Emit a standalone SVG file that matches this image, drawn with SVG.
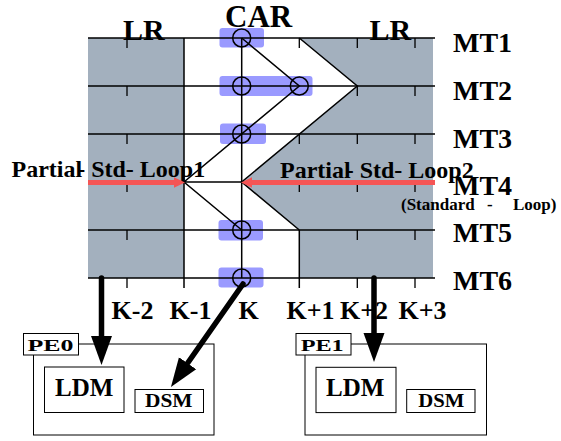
<svg xmlns="http://www.w3.org/2000/svg" width="561" height="441" viewBox="0 0 561 441">
  <defs>
    <style>
      text { font-family: "Liberation Serif", "Times New Roman", serif; font-weight: bold; fill: #000; }
      .reg { fill: #a3b0be; }
      .hl { fill: #9a9aff; }
      .ln { stroke: #000; stroke-width: 1.5; fill: none; }
      .tick { stroke: #000; stroke-width: 1.3; }
      .node { fill: none; stroke: #000; stroke-width: 1.5; }
      .red { stroke: #f55555; stroke-width: 5; fill: none; }
      .thick { stroke: #000; stroke-width: 5.5; stroke-linecap: round; fill: none; }
      .box { fill: #fff; stroke: #000; stroke-width: 1; }
      .big { font-size: 30px; }
      .mt { font-size: 28px; }
      .col { font-size: 26px; }
      .loop { font-size: 24px; }
    </style>
    <marker id="redHead" markerUnits="userSpaceOnUse" markerWidth="12" markerHeight="12" viewBox="0 0 12 12" refX="0" refY="6" orient="auto">
      <path d="M0,0.8 L11,6 L0,11.2 z" fill="#f55555"/>
    </marker>
    <marker id="blackHead" markerUnits="userSpaceOnUse" markerWidth="30" markerHeight="24" viewBox="0 0 30 24" refX="1" refY="12" orient="auto">
      <path d="M0,1.5 L29,12 L0,22.5 z" fill="#000"/>
    </marker>
  </defs>

  <!-- shaded regions (neighbouring LR columns) -->
  <g id="regions">
    <rect class="reg" x="88" y="38" width="96" height="240"/>
    <polygon class="reg" points="299.3,38 433,38 433,278 299.3,278 299.3,230 241.7,182 357.3,86"/>
  </g>

  <!-- highlighted cells -->
  <g id="highlights">
    <rect class="hl" x="219.5" y="28" width="44.5" height="19.5" rx="3"/>
    <rect class="hl" x="219.5" y="76" width="93" height="20" rx="3"/>
    <rect class="hl" x="220" y="123.5" width="46" height="20.5" rx="3"/>
    <rect class="hl" x="218.5" y="220" width="44.5" height="20.5" rx="3"/>
    <rect class="hl" x="218.5" y="267.5" width="45" height="20" rx="3"/>
  </g>

  <!-- grid -->
  <g id="grid">
    <path class="ln" d="M88,38 H435 M88,86 H435 M88,134 H435 M88,182 H435 M88,230 H435 M88,278 H435"/>
    <path class="ln" d="M184,38 V288 M241.7,38 V278 M299.3,230 V288"/>
    <path class="tick" d="M127,38 v10 M127,86 v10 M127,134 v10 M127,182 v10 M127,230 v10 M127,278 v10
      M299.3,38 v10 M299.3,134 v10 M299.3,182 v10
      M357.3,38 v10 M357.3,86 v10 M357.3,134 v10 M357.3,182 v10 M357.3,230 v10 M357.3,278 v10
      M415,38 v10 M415,86 v10 M415,134 v10 M415,182 v10 M415,230 v10 M415,278 v10"/>
    <polyline class="ln" points="299.3,38 357.3,86 241.7,182 299.3,230"/>
  </g>

  <!-- iteration nodes -->
  <g id="n-k-mt1"><circle class="node" cx="241.7" cy="38" r="9"/></g>
  <g id="n-k-mt2"><circle class="node" cx="241.7" cy="86" r="9"/></g>
  <g id="n-k1-mt2"><circle class="node" cx="299.3" cy="86" r="9"/></g>
  <g id="n-k-mt3"><circle class="node" cx="241.7" cy="134" r="9"/></g>
  <g id="n-k-mt5"><circle class="node" cx="241.7" cy="230" r="9"/></g>
  <g id="n-k-mt6"><circle class="node" cx="241.7" cy="278" r="9"/></g>

  <!-- labels -->
  <g id="labels">
    <text class="big" x="123" y="39.5">LR</text>
    <text x="225" y="27.3" style="font-size:31px">CAR</text>
    <text class="big" x="369.5" y="39.5">LR</text>
    <text class="mt" x="453" y="52">MT1</text>
    <text class="mt" x="453" y="100">MT2</text>
    <text class="mt" x="453" y="147.5">MT3</text>
    <text class="mt" x="453" y="194.5">MT4</text>
    <text class="mt" x="453" y="242">MT5</text>
    <text class="mt" x="453" y="290">MT6</text>
    <text class="col" x="111.5" y="318.5">K-2</text>
    <text class="col" x="169.5" y="318.5">K-1</text>
    <text class="col" x="238.5" y="318.5">K</text>
    <text class="col" x="286.5" y="318.5">K+1</text>
    <text class="col" x="340" y="318.5">K+2</text>
    <text class="col" x="398.5" y="318.5">K+3</text>
    <text class="loop" x="11.5" y="176.5">Partial<tspan dx="-5">-</tspan> Std- Loop1</text>
    <text class="loop" x="280" y="177.5">Partial<tspan dx="-5">-</tspan> Std- Loop2</text>
    <text style="font-size:17px" y="209.5"><tspan x="401">(Standard</tspan><tspan x="487">-</tspan><tspan x="513">Loop)</tspan></text>
  </g>

  <!-- processing element 0 -->
  <g id="pe0">
    <rect class="box" x="33.5" y="344" width="180.5" height="91"/>
    <rect class="box" x="23.5" y="333.5" width="55" height="21.5"/>
    <text x="27.5" y="350.5" style="font-size:16px" textLength="46" lengthAdjust="spacingAndGlyphs">PE0</text>
    <rect class="box" x="44.5" y="367" width="79.5" height="45.5"/>
    <text x="55" y="396" style="font-size:25px">LDM</text>
    <rect class="box" x="135" y="389.5" width="68.5" height="23"/>
    <text x="145" y="406.7" style="font-size:19px" textLength="47.5" lengthAdjust="spacingAndGlyphs">DSM</text>
  </g>

  <!-- processing element 1 -->
  <g id="pe1">
    <rect class="box" x="305" y="344" width="181.5" height="91"/>
    <rect class="box" x="296" y="333.5" width="55" height="21.5"/>
    <text x="300.7" y="350.5" style="font-size:16px" textLength="43" lengthAdjust="spacingAndGlyphs">PE1</text>
    <rect class="box" x="316" y="367.3" width="80" height="45.3"/>
    <text x="326" y="396" style="font-size:25px">LDM</text>
    <rect class="box" x="406.7" y="389.5" width="68.3" height="23"/>
    <text x="418.3" y="406.7" style="font-size:19px" textLength="46" lengthAdjust="spacingAndGlyphs">DSM</text>
  </g>

  <!-- dependence path, loop entry arrows and data transfers -->
  <g id="connectors">
    <polyline class="ln" points="241.7,38 299.3,86 184,182 241.7,230"/>
    <line class="red" x1="88" y1="182.5" x2="174" y2="182.5" marker-end="url(#redHead)"/>
    <line class="red" x1="435" y1="182.5" x2="252" y2="182.5" marker-end="url(#redHead)"/>
    <line class="thick" x1="101.5" y1="278" x2="101.5" y2="337" marker-end="url(#blackHead)"/>
    <line class="thick" x1="243" y1="284" x2="187" y2="364" marker-end="url(#blackHead)"/>
    <line class="thick" x1="374" y1="278" x2="374" y2="334" marker-end="url(#blackHead)"/>
  </g>
</svg>
